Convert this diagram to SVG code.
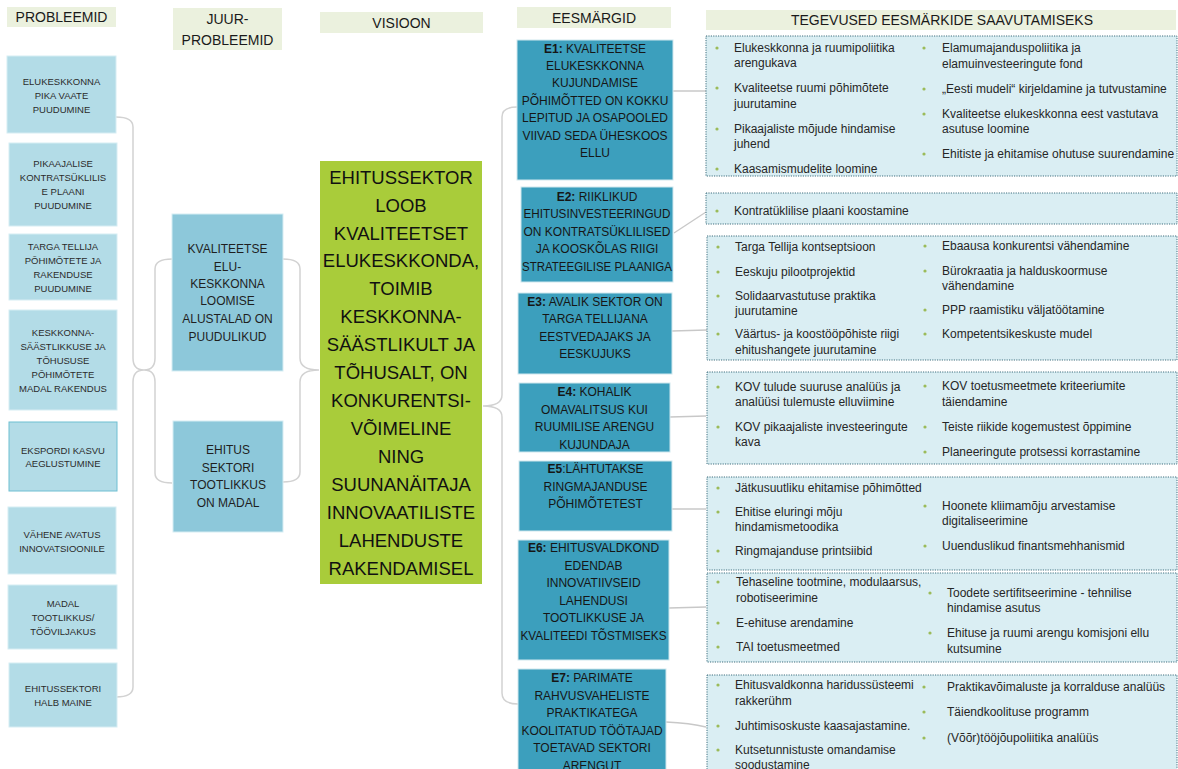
<svg xmlns="http://www.w3.org/2000/svg" width="1178" height="769" viewBox="0 0 1178 769">
<style>
text{font-family:"Liberation Sans",Arial,sans-serif;}
.hdr{fill:#EBF1DE;}
.ht{font-size:14px;fill:#1a1a1a;text-anchor:middle;}
.pb{fill:#B3DCE7;stroke:#D6EDF3;stroke-width:1;}
.pt{font-size:9.5px;fill:#2b2b2b;text-anchor:middle;}
.jb{fill:#8DC8DA;stroke:#D6EDF3;stroke-width:1;}
.jt{font-size:12px;fill:#1f1f1f;text-anchor:middle;}
.vb{fill:#A9CC3A;}
.vt{font-size:18.5px;fill:#111;text-anchor:middle;}
.gb{fill:#3C9FBD;stroke:#CFE7EE;stroke-width:1;}
.gt{font-size:12px;fill:#161616;text-anchor:middle;}
.tb{fill:#DAEEF3;stroke:#3E6F7E;stroke-width:1;stroke-dasharray:1.2 1.2;}
.tt{font-size:12px;fill:#262626;}
.bl{fill:#9BBB59;}
.br{fill:none;stroke:#D2D2D2;stroke-width:1.5;}
.cn{fill:none;stroke:#C8C8C8;stroke-width:1.3;}
</style>

<g id="headers">
<g id="h-probleemid"><rect class="hdr" x="7" y="7" width="109" height="20"/><text class="ht" x="61.5" y="22">PROBLEEMID</text></g>
<g id="h-juur"><rect class="hdr" x="173" y="8" width="109" height="42"/><text class="ht" x="227.5" y="24">JUUR-</text><text class="ht" x="227.5" y="45">PROBLEEMID</text></g>
<g id="h-visioon"><rect class="hdr" x="320" y="12" width="163" height="21"/><text class="ht" x="401.5" y="28">VISIOON</text></g>
<g id="h-eesmargid"><rect class="hdr" x="517" y="7" width="154" height="21"/><text class="ht" x="594" y="23">EESMÄRGID</text></g>
<g id="h-tegevused"><rect class="hdr" x="706" y="10" width="470" height="20"/><text class="ht" x="942" y="25">TEGEVUSED EESMÄRKIDE SAAVUTAMISEKS</text></g>
</g>

<g id="connectors">
<path class="br" d="M116,117 Q133,117 133,127 L133,358 Q133,370 144,370 Q133,370 133,382 L133,687 Q133,697 116,697"/>
<path class="br" d="M172,259 Q155,259 155,269 L155,358 Q155,370 144,370 Q155,370 155,382 L155,473 Q155,483 172,483"/>
<path class="br" d="M283,259 Q300,259 300,269 L300,358 Q300,370 319,370 Q300,370 300,382 L300,472 Q300,482 283,482"/>
<path class="br" d="M517,107 Q502,107 502,117 L502,395 Q502,406 483,406 Q502,406 502,417 L502,693 Q502,704 518,704"/>
<line class="cn" x1="673" y1="91" x2="706" y2="91"/>
<line class="cn" x1="674" y1="233" x2="706" y2="212"/>
<line class="cn" x1="672" y1="331" x2="707" y2="330"/>
<line class="cn" x1="670" y1="417" x2="706" y2="416"/>
<line class="cn" x1="672" y1="509" x2="706" y2="509"/>
<line class="cn" x1="669" y1="608" x2="706" y2="607"/>
<path class="cn" d="M666,722 Q690,723 706,727"/>
</g>

<g id="p1"><rect class="pb" x="7" y="56" width="109" height="77"/>
<text class="pt" x="61.5" y="84.5">ELUKESKKONNA</text><text class="pt" x="61.5" y="98.5">PIKA VAATE</text><text class="pt" x="61.5" y="112.5">PUUDUMINE</text></g>
<g id="p2"><rect class="pb" x="9" y="143" width="108" height="83"/>
<text class="pt" x="63" y="166.5">PIKAAJALISE</text><text class="pt" x="63" y="180.5">KONTRATSÜKLILIS</text><text class="pt" x="63" y="194.5">E PLAANI</text><text class="pt" x="63" y="208.5">PUUDUMINE</text></g>
<g id="p3"><rect class="pb" x="9" y="234" width="108" height="66"/>
<text class="pt" x="63" y="249.5">TARGA TELLIJA</text><text class="pt" x="63" y="263.5">PÕHIMÕTETE JA</text><text class="pt" x="63" y="277.5">RAKENDUSE</text><text class="pt" x="63" y="291.5">PUUDUMINE</text></g>
<g id="p4"><rect class="pb" x="9" y="310" width="108" height="100"/>
<text class="pt" x="63" y="335.5">KESKKONNA-</text><text class="pt" x="63" y="349.5">SÄÄSTLIKKUSE JA</text><text class="pt" x="63" y="363.5">TÕHUSUSE</text><text class="pt" x="63" y="377.5">PÕHIMÕTETE</text><text class="pt" x="63" y="391.5">MADAL RAKENDUS</text></g>
<g id="p5"><rect class="pb" x="9" y="422" width="108" height="69" style="stroke:#6FBFD2"/>
<text class="pt" x="63" y="453.5">EKSPORDI KASVU</text><text class="pt" x="63" y="466.5">AEGLUSTUMINE</text></g>
<g id="p6"><rect class="pb" x="8" y="507" width="108" height="67"/>
<text class="pt" x="62" y="537.5">VÄHENE AVATUS</text><text class="pt" x="62" y="551.5">INNOVATSIOONILE</text></g>
<g id="p7"><rect class="pb" x="8" y="585" width="109" height="64"/>
<text class="pt" x="63" y="606.5">MADAL</text><text class="pt" x="63" y="620.5">TOOTLIKKUS/</text><text class="pt" x="63" y="634.5">TÖÖVILJAKUS</text></g>
<g id="p8"><rect class="pb" x="9" y="663" width="108" height="64"/>
<text class="pt" x="63" y="691.5">EHITUSSEKTORI</text><text class="pt" x="63" y="705.5">HALB MAINE</text></g>

<g id="j1"><rect class="jb" x="172" y="214" width="111" height="157"/>
<text class="jt" x="227.5" y="253.3">KVALITEETSE</text><text class="jt" x="227.5" y="271.3">ELU-</text><text class="jt" x="227.5" y="288.3">KESKKONNA</text><text class="jt" x="227.5" y="305.3">LOOMISE</text><text class="jt" x="227.5" y="323.3">ALUSTALAD ON</text><text class="jt" x="227.5" y="341.3">PUUDULIKUD</text></g>
<g id="j2"><rect class="jb" x="173" y="421" width="110" height="111"/>
<text class="jt" x="228" y="454.3">EHITUS</text><text class="jt" x="228" y="472.3">SEKTORI</text><text class="jt" x="228" y="489.3">TOOTLIKKUS</text><text class="jt" x="228" y="507.3">ON MADAL</text></g>

<g id="visioon"><rect class="vb" x="320" y="161" width="162" height="423"/>
<text class="vt" x="401" y="183.6">EHITUSSEKTOR</text>
<text class="vt" x="401" y="211.5">LOOB</text>
<text class="vt" x="401" y="239.5">KVALITEETSET</text>
<text class="vt" x="401" y="267.4">ELUKESKKONDA,</text>
<text class="vt" x="401" y="295.3">TOIMIB</text>
<text class="vt" x="401" y="323.2">KESKKONNA-</text>
<text class="vt" x="401" y="351.2">SÄÄSTLIKULT JA</text>
<text class="vt" x="401" y="379.1">TÕHUSALT, ON</text>
<text class="vt" x="401" y="407">KONKURENTSI-</text>
<text class="vt" x="401" y="435">VÕIMELINE</text>
<text class="vt" x="401" y="462.9">NING</text>
<text class="vt" x="401" y="490.8">SUUNANÄITAJA</text>
<text class="vt" x="401" y="518.7">INNOVAATILISTE</text>
<text class="vt" x="401" y="546.7">LAHENDUSTE</text>
<text class="vt" x="401" y="574.6">RAKENDAMISEL</text></g>

<g id="e1"><rect class="gb" x="517" y="40" width="156" height="140"/>
<text class="gt" x="595" y="52.6"><tspan font-weight="bold">E1:</tspan> KVALITEETSE</text>
<text class="gt" x="595" y="70.3">ELUKESKKONNA</text>
<text class="gt" x="595" y="87.3">KUJUNDAMISE</text>
<text class="gt" x="595" y="105">PÕHIMÕTTED ON KOKKU</text>
<text class="gt" x="595" y="122.3">LEPITUD JA OSAPOOLED</text>
<text class="gt" x="595" y="140.3">VIIVAD SEDA ÜHESKOOS</text>
<text class="gt" x="595" y="157.3">ELLU</text></g>
<g id="e2"><rect class="gb" x="521" y="187" width="152" height="95"/>
<text class="gt" x="597" y="201.3"><tspan font-weight="bold">E2:</tspan> RIIKLIKUD</text>
<text class="gt" x="597" y="218.3" textLength="147" lengthAdjust="spacingAndGlyphs">EHITUSINVESTEERINGUD</text>
<text class="gt" x="597" y="236.3" textLength="147" lengthAdjust="spacingAndGlyphs">ON KONTRATSÜKLILISED</text>
<text class="gt" x="597" y="253.3">JA KOOSKÕLAS RIIGI</text>
<text class="gt" x="597" y="271.3" textLength="150" lengthAdjust="spacingAndGlyphs">STRATEEGILISE PLAANIGA</text></g>
<g id="e3"><rect class="gb" x="518" y="293" width="154" height="81"/>
<text class="gt" x="595" y="306.3"><tspan font-weight="bold">E3:</tspan> AVALIK SEKTOR ON</text>
<text class="gt" x="595" y="323.3">TARGA TELLIJANA</text>
<text class="gt" x="595" y="341.3">EESTVEDAJAKS JA</text>
<text class="gt" x="595" y="358.3">EESKUJUKS</text></g>
<g id="e4"><rect class="gb" x="519" y="383" width="151" height="69"/>
<text class="gt" x="594.5" y="396.3"><tspan font-weight="bold">E4:</tspan> KOHALIK</text>
<text class="gt" x="594.5" y="414.3">OMAVALITSUS KUI</text>
<text class="gt" x="594.5" y="431.3">RUUMILISE ARENGU</text>
<text class="gt" x="594.5" y="449.3">KUJUNDAJA</text></g>
<g id="e5"><rect class="gb" x="519" y="461" width="153" height="70"/>
<text class="gt" x="595.5" y="473.3"><tspan font-weight="bold">E5</tspan>:LÄHTUTAKSE</text>
<text class="gt" x="595.5" y="491.3">RINGMAJANDUSE</text>
<text class="gt" x="595.5" y="508.3">PÕHIMÕTETEST</text></g>
<g id="e6"><rect class="gb" x="518" y="540" width="151" height="120"/>
<text class="gt" x="593.5" y="552.3"><tspan font-weight="bold">E6:</tspan> EHITUSVALDKOND</text>
<text class="gt" x="593.5" y="570.3">EDENDAB</text>
<text class="gt" x="593.5" y="587.3">INNOVATIIVSEID</text>
<text class="gt" x="593.5" y="605.3">LAHENDUSI</text>
<text class="gt" x="593.5" y="622.3">TOOTLIKKUSE JA</text>
<text class="gt" x="593.5" y="640.3" textLength="146" lengthAdjust="spacingAndGlyphs">KVALITEEDI TÕSTMISEKS</text></g>
<g id="e7"><rect class="gb" x="518" y="669" width="148" height="110"/>
<text class="gt" x="592" y="682.3"><tspan font-weight="bold">E7:</tspan> PARIMATE</text>
<text class="gt" x="592" y="700.3">RAHVUSVAHELISTE</text>
<text class="gt" x="592" y="717.3">PRAKTIKATEGA</text>
<text class="gt" x="592" y="735.3">KOOLITATUD TÖÖTAJAD</text>
<text class="gt" x="592" y="752.3">TOETAVAD SEKTORI</text>
<text class="gt" x="592" y="770.3">ARENGUT</text></g>

<g id="t1"><rect class="tb" x="706" y="36" width="471" height="140"/>
<circle class="bl" cx="717" cy="48" r="1.6"/><text class="tt" x="734" y="52">Elukeskkonna ja ruumipoliitika</text><text class="tt" x="734" y="67">arengukava</text>
<circle class="bl" cx="717" cy="88" r="1.6"/><text class="tt" x="734" y="92">Kvaliteetse ruumi põhimõtete</text><text class="tt" x="734" y="108">juurutamine</text>
<circle class="bl" cx="717" cy="129" r="1.6"/><text class="tt" x="734" y="133">Pikaajaliste mõjude hindamise</text><text class="tt" x="734" y="148">juhend</text>
<circle class="bl" cx="717" cy="169" r="1.6"/><text class="tt" x="734" y="173">Kaasamismudelite loomine</text>
<circle class="bl" cx="924" cy="48" r="1.6"/><text class="tt" x="942" y="52">Elamumajanduspoliitika ja</text><text class="tt" x="942" y="68">elamuinvesteeringute  fond</text>
<circle class="bl" cx="924" cy="89" r="1.6"/><text class="tt" x="942" y="93">„Eesti mudeli“ kirjeldamine ja tutvustamine</text>
<circle class="bl" cx="924" cy="114" r="1.6"/><text class="tt" x="942" y="118">Kvaliteetse elukeskkonna eest vastutava</text><text class="tt" x="942" y="133">asutuse loomine</text>
<circle class="bl" cx="924" cy="154" r="1.6"/><text class="tt" x="942" y="158">Ehitiste ja ehitamise ohutuse suurendamine</text></g>

<g id="t2"><rect class="tb" x="706" y="193" width="471" height="31"/>
<circle class="bl" cx="717" cy="211" r="1.6"/><text class="tt" x="734" y="215">Kontratüklilise plaani koostamine</text></g>

<g id="t3"><rect class="tb" x="707" y="236" width="470" height="124"/>
<circle class="bl" cx="718" cy="247" r="1.6"/><text class="tt" x="735" y="251">Targa Tellija  kontseptsioon</text>
<circle class="bl" cx="718" cy="272" r="1.6"/><text class="tt" x="735" y="276">Eeskuju pilootprojektid</text>
<circle class="bl" cx="718" cy="296" r="1.6"/><text class="tt" x="735" y="300">Solidaarvastutuse praktika</text><text class="tt" x="735" y="315">juurutamine</text>
<circle class="bl" cx="718" cy="334" r="1.6"/><text class="tt" x="735" y="338">Väärtus- ja koostööpõhiste riigi</text><text class="tt" x="735" y="354">ehitushangete juurutamine</text>
<circle class="bl" cx="925" cy="246" r="1.6"/><text class="tt" x="942" y="250">Ebaausa konkurentsi vähendamine</text>
<circle class="bl" cx="925" cy="271" r="1.6"/><text class="tt" x="942" y="275">Bürokraatia ja halduskoormuse</text><text class="tt" x="942" y="290">vähendamine</text>
<circle class="bl" cx="925" cy="310" r="1.6"/><text class="tt" x="942" y="314">PPP raamistiku väljatöötamine</text>
<circle class="bl" cx="925" cy="334" r="1.6"/><text class="tt" x="942" y="338">Kompetentsikeskuste mudel</text></g>

<g id="t4"><rect class="tb" x="707" y="372" width="470" height="92"/>
<circle class="bl" cx="718" cy="387" r="1.6"/><text class="tt" x="735" y="391">KOV tulude  suuruse analüüs ja</text><text class="tt" x="735" y="406">analüüsi tulemuste elluviimine</text>
<circle class="bl" cx="718" cy="427" r="1.6"/><text class="tt" x="735" y="431">KOV pikaajaliste investeeringute</text><text class="tt" x="735" y="446">kava</text>
<circle class="bl" cx="925" cy="386" r="1.6"/><text class="tt" x="942" y="390">KOV toetusmeetmete  kriteeriumite</text><text class="tt" x="942" y="406">täiendamine</text>
<circle class="bl" cx="925" cy="427" r="1.6"/><text class="tt" x="942" y="431">Teiste riikide kogemustest õppimine</text>
<circle class="bl" cx="925" cy="452" r="1.6"/><text class="tt" x="942" y="456">Planeeringute protsessi korrastamine</text></g>

<g id="t5"><rect class="tb" x="707" y="477" width="470" height="93"/>
<circle class="bl" cx="718" cy="488" r="1.6"/><text class="tt" x="735" y="492">Jätkusuutliku ehitamise  põhimõtted</text>
<circle class="bl" cx="718" cy="512" r="1.6"/><text class="tt" x="735" y="516">Ehitise eluringi mõju</text><text class="tt" x="735" y="531">hindamismetoodika</text>
<circle class="bl" cx="718" cy="551" r="1.6"/><text class="tt" x="735" y="555">Ringmajanduse printsiibid</text>
<circle class="bl" cx="925" cy="506" r="1.6"/><text class="tt" x="942" y="510">Hoonete kliimamõju arvestamise</text><text class="tt" x="942" y="525">digitaliseerimine</text>
<circle class="bl" cx="925" cy="546" r="1.6"/><text class="tt" x="942" y="550">Uuenduslikud finantsmehhanismid</text></g>

<g id="t6"><rect class="tb" x="707" y="573" width="470" height="89"/>
<circle class="bl" cx="718" cy="582" r="1.6"/><text class="tt" x="736" y="586">Tehaseline tootmine, modulaarsus,</text><text class="tt" x="736" y="602">robotiseerimine</text>
<circle class="bl" cx="718" cy="623" r="1.6"/><text class="tt" x="736" y="627">E-ehituse arendamine</text>
<circle class="bl" cx="718" cy="647" r="1.6"/><text class="tt" x="736" y="651">TAI toetusmeetmed</text>
<circle class="bl" cx="930" cy="593" r="1.6"/><text class="tt" x="947" y="597">Toodete sertifitseerimine  - tehnilise</text><text class="tt" x="947" y="612">hindamise asutus</text>
<circle class="bl" cx="930" cy="633" r="1.6"/><text class="tt" x="947" y="637">Ehituse ja ruumi arengu komisjoni ellu</text><text class="tt" x="947" y="653">kutsumine</text></g>

<g id="t7"><rect class="tb" x="707" y="675" width="470" height="110"/>
<circle class="bl" cx="718" cy="685" r="1.6"/><text class="tt" x="735" y="689">Ehitusvaldkonna haridussüsteemi</text><text class="tt" x="735" y="705">rakkerühm</text>
<circle class="bl" cx="718" cy="726" r="1.6"/><text class="tt" x="735" y="730">Juhtimisoskuste kaasajastamine.</text>
<circle class="bl" cx="718" cy="750" r="1.6"/><text class="tt" x="735" y="754">Kutsetunnistuste omandamise</text><text class="tt" x="735" y="769">soodustamine</text>
<circle class="bl" cx="924" cy="687" r="1.6"/><text class="tt" x="947" y="691">Praktikavõimaluste ja korralduse analüüs</text>
<circle class="bl" cx="924" cy="712" r="1.6"/><text class="tt" x="947" y="716">Täiendkoolituse programm</text>
<circle class="bl" cx="924" cy="738" r="1.6"/><text class="tt" x="947" y="742">(Võõr)tööjõupoliitika analüüs</text></g>
</svg>
